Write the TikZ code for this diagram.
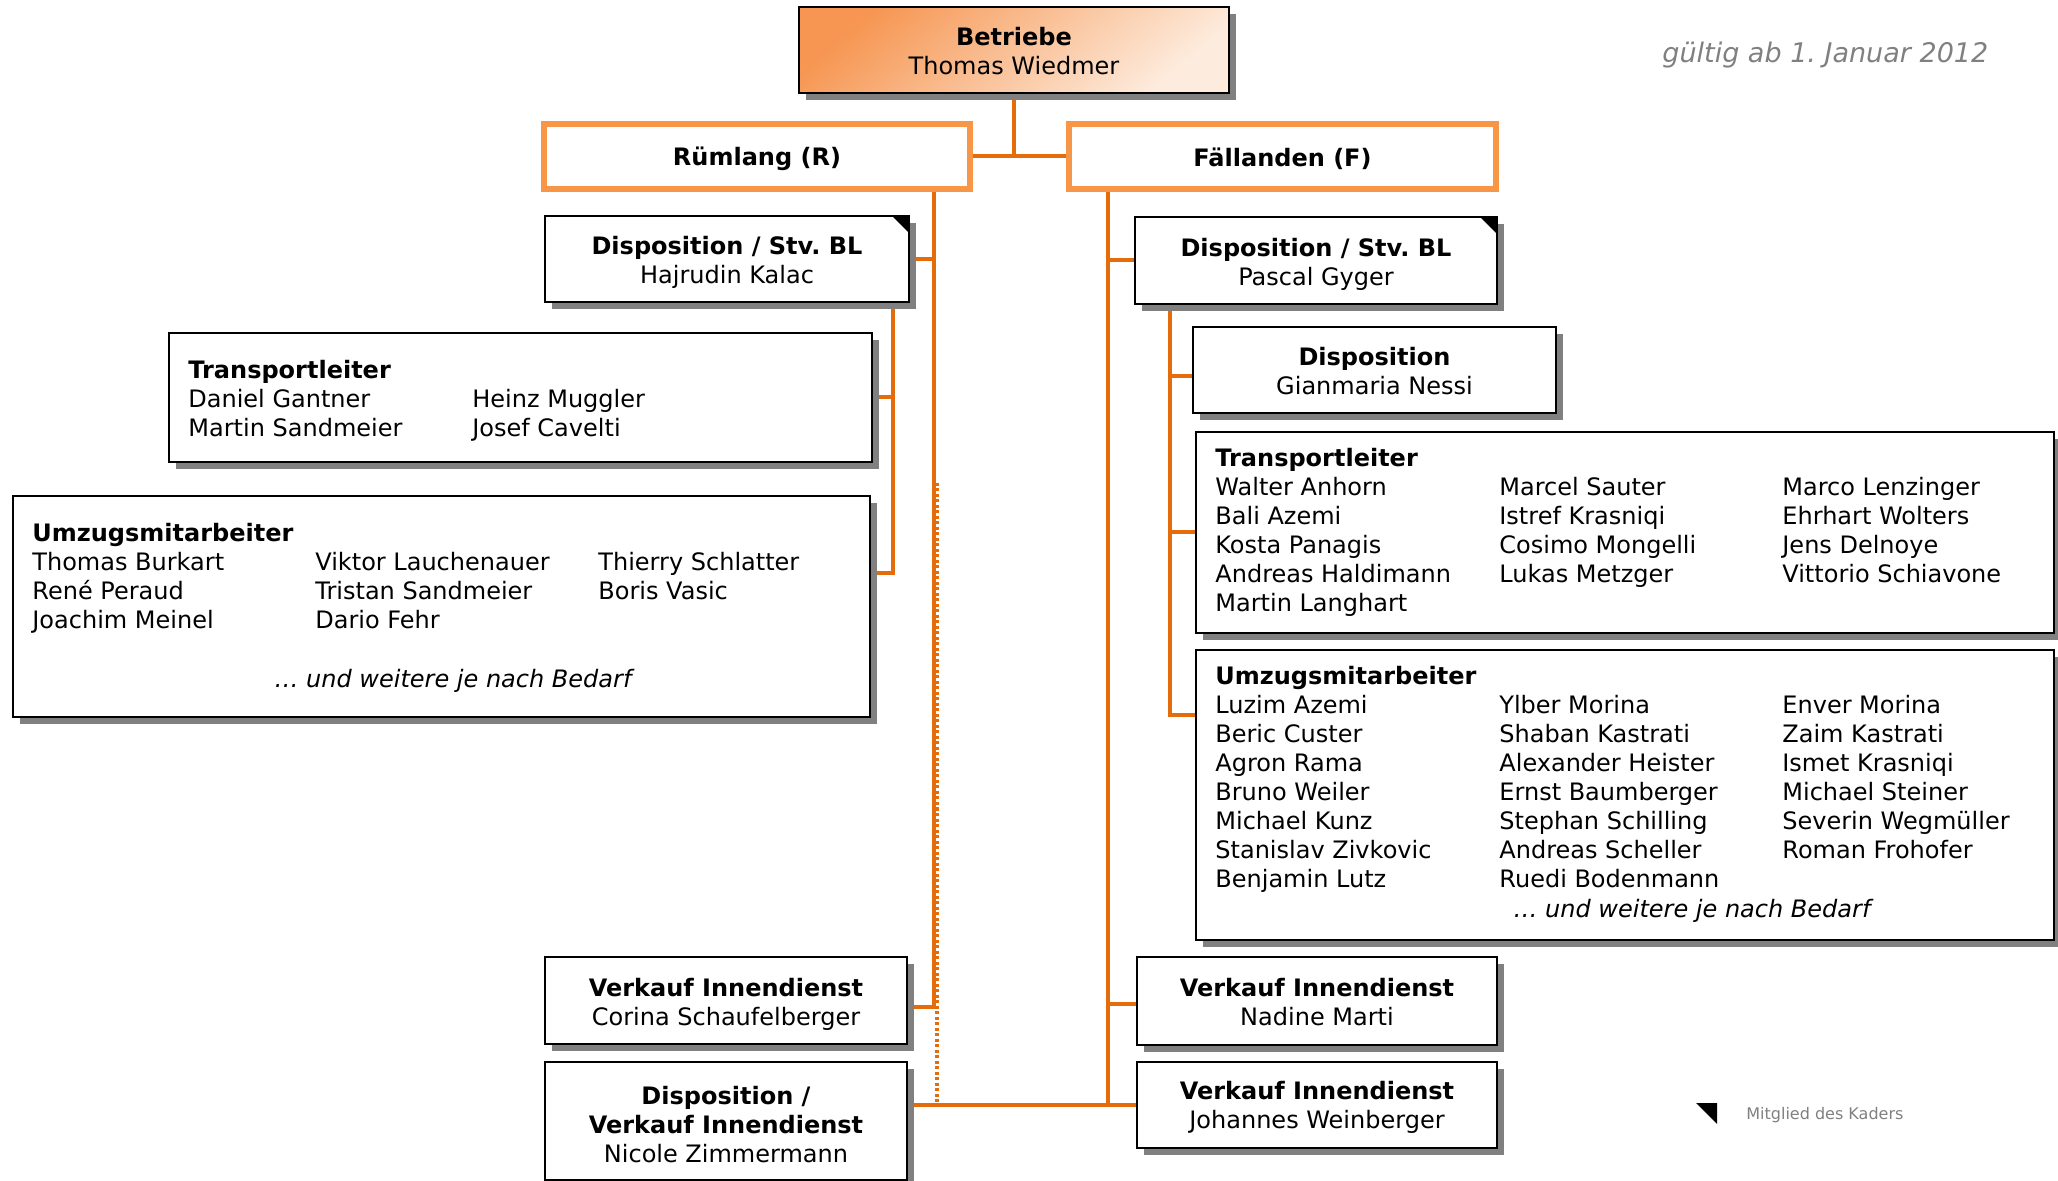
\documentclass[tikz,border=0pt]{standalone}
\usepackage{fontspec}
\setmainfont{DejaVu Sans}
\usetikzlibrary{shadows,backgrounds}
\definecolor{lineor}{RGB}{228,108,10}
\definecolor{boxor}{RGB}{247,150,70}
\definecolor{gradA}{RGB}{246,150,82}
\definecolor{gradB}{RGB}{253,236,222}
\definecolor{shad}{RGB}{128,128,128}
\definecolor{greytxt}{RGB}{128,128,128}
\newcommand\mystrut[1]{\rule{0pt}{#1}}
\frenchspacing
\begin{document}
\frenchspacing
\begin{tikzpicture}[x=0.5pt,y=-0.5pt,
  every node/.style={font=\fontsize{12}{14.5}\selectfont},
  box/.style={draw=black, line width=1.2pt, fill=white, inner sep=0pt, outer sep=0pt, align=center, anchor=north west,
    drop shadow={shadow xshift=3.5pt, shadow yshift=-3.5pt, fill=shad, opacity=1}},
  site/.style={draw=boxor, line width=3pt, fill=white, inner sep=0pt, outer sep=0pt, anchor=north west,
    execute at begin node={\rule{0pt}{12pt}},
    font=\fontsize{12}{14.5}\selectfont\bfseries},
  conn/.style={draw=lineor, line width=2pt},
  dotconn/.style={draw=lineor, line width=1.75pt, dash pattern=on 1.5pt off 1.25pt},
  txt/.style={anchor=base west, inner sep=0pt},
  more/.style={anchor=base, inner sep=0pt, font=\fontsize{12}{14.5}\selectfont\itshape},
  kader/.style={fill=black},
  ]
\clip (0,0) rectangle (2058,1181);

% top
\node[box, minimum width=215pt, minimum height=43pt, top color=gradA, bottom color=gradB, shading angle=40] (bet) at (799,7)
  {\mystrut{10.5pt}\textbf{Betriebe}\\Thomas Wiedmer};
\node[site, minimum width=213pt, minimum height=32.5pt] (rum) at (544,124) {Rümlang (R)};
\node[site, minimum width=213.5pt, minimum height=32.5pt] (fal) at (1069,124) {Fällanden (F)};

% left side
\node[box, minimum width=182pt, minimum height=43pt] (dR) at (545,216) {\mystrut{13pt}\textbf{Disposition / Stv. BL}\\Hajrudin Kalac};
\node[box, minimum width=351.5pt, minimum height=64.5pt] (tR) at (169,333) {};
\node[box, minimum width=428.5pt, minimum height=110.5pt] (uR) at (13,496) {};
\node[box, minimum width=181pt, minimum height=43.5pt] (vR) at (545,957) {\mystrut{12.5pt}\textbf{Verkauf Innendienst}\\Corina Schaufelberger};
\node[box, minimum width=181pt, minimum height=59pt] (dvR) at (545,1062) {\mystrut{12.5pt}\textbf{Disposition /}\\\textbf{Verkauf Innendienst}\\Nicole Zimmermann};

% right side
\node[box, minimum width=181pt, minimum height=43.5pt] (dF) at (1135,217) {\mystrut{13pt}\textbf{Disposition / Stv. BL}\\Pascal Gyger};
\node[box, minimum width=181.5pt, minimum height=43pt] (dispF) at (1193,327) {\mystrut{10.5pt}\textbf{Disposition}\\Gianmaria Nessi};
\node[box, minimum width=429pt, minimum height=100.5pt] (tF) at (1196,432) {};
\node[box, minimum width=429pt, minimum height=145pt] (uF) at (1196,650) {};
\node[box, minimum width=180pt, minimum height=44pt] (vF) at (1137,957) {\mystrut{10pt}\textbf{Verkauf Innendienst}\\Nadine Marti};
\node[box, minimum width=180pt, minimum height=43pt] (vF2) at (1137,1062) {\mystrut{11.5pt}\textbf{Verkauf Innendienst}\\Johannes Weinberger};

% Kader markers
\fill[kader] ([xshift=-8.5pt]dR.north east) -- (dR.north east) -- ([yshift=-8.5pt]dR.north east) -- cycle;
\fill[kader] ([xshift=-8.5pt]dF.north east) -- (dF.north east) -- ([yshift=-8.5pt]dF.north east) -- cycle;

% Transportleiter R
\node[txt] (tRh) at (188,379) {\textbf{Transportleiter}};
\foreach \t [count=\i from 0] in {Daniel Gantner, Martin Sandmeier} \node[txt] (tRa\i) at (188,408+29*\i) {\t};
\foreach \t [count=\i from 0] in {Heinz Muggler, Josef Cavelti} \node[txt] (tRb\i) at (472,408+29*\i) {\t};

% Umzugsmitarbeiter R
\node[txt] (uRh) at (32,542) {\textbf{Umzugsmitarbeiter}};
\foreach \t [count=\i from 0] in {Thomas Burkart, René Peraud, Joachim Meinel} \node[txt] (uRa\i) at (32,571+29*\i) {\t};
\foreach \t [count=\i from 0] in {Viktor Lauchenauer, Tristan Sandmeier, Dario Fehr} \node[txt] (uRb\i) at (315,571+29*\i) {\t};
\foreach \t [count=\i from 0] in {Thierry Schlatter, Boris Vasic} \node[txt] (uRc\i) at (598,571+29*\i) {\t};
\node[more] (uRm) at (453,688) {… und weitere je nach Bedarf};

% Transportleiter F
\node[txt] (tFh) at (1215,467) {\textbf{Transportleiter}};
\foreach \t [count=\i from 0] in {Walter Anhorn, Bali Azemi, Kosta Panagis, Andreas Haldimann, Martin Langhart} \node[txt] (tFa\i) at (1215,496+29*\i) {\t};
\foreach \t [count=\i from 0] in {Marcel Sauter, Istref Krasniqi, Cosimo Mongelli, Lukas Metzger} \node[txt] (tFb\i) at (1499,496+29*\i) {\t};
\foreach \t [count=\i from 0] in {Marco Lenzinger, Ehrhart Wolters, Jens Delnoye, Vittorio Schiavone} \node[txt] (tFc\i) at (1782,496+29*\i) {\t};

% Umzugsmitarbeiter F
\node[txt] (uFh) at (1215,685) {\textbf{Umzugsmitarbeiter}};
\foreach \t [count=\i from 0] in {Luzim Azemi, Beric Custer, Agron Rama, Bruno Weiler, Michael Kunz, Stanislav Zivkovic, Benjamin Lutz} \node[txt] (uFa\i) at (1215,714+29*\i) {\t};
\foreach \t [count=\i from 0] in {Ylber Morina, Shaban Kastrati, Alexander Heister, Ernst Baumberger, Stephan Schilling, Andreas Scheller, Ruedi Bodenmann} \node[txt] (uFb\i) at (1499,714+29*\i) {\t};
\foreach \t [count=\i from 0] in {Enver Morina, Zaim Kastrati, Ismet Krasniqi, Michael Steiner, Severin Wegmüller, Roman Frohofer} \node[txt] (uFc\i) at (1782,714+29*\i) {\t};
\node[more] (uFm) at (1692,917) {… und weitere je nach Bedarf};

% date and legend
\node[anchor=base west, inner sep=0pt, font=\fontsize{13.5}{16}\selectfont\itshape, text=greytxt] (date) at (1662,63) {gültig ab 1. Januar 2012};
\coordinate (legtri) at (1717,1103);
\fill[kader] ([xshift=-10.5pt]legtri) -- (legtri) -- ([yshift=-10.5pt]legtri) -- cycle;
\node[anchor=base west, inner sep=0pt, font=\fontsize{8}{10}\selectfont, text=greytxt] (leg) at (1746,1119) {Mitglied des Kaders};

% connectors
\coordinate (tkL) at (934,0);
\coordinate (skL) at (893,0);
\coordinate (tkR) at (1108,0);
\coordinate (skR) at (1170,0);
\coordinate (dotTop) at (937,483);
\begin{scope}[on background layer]
  \draw[conn] (bet.south) -- (bet.south |- rum.east);
  \draw[conn] (rum.east) -- (fal.west);
  \draw[conn] (rum.south -| tkL) |- ([yshift=-3pt]vR.east);
  \draw[conn] (dR.east) -- (dR.east -| tkL);
  \draw[conn] (dR.south -| skL) |- ([yshift=16.75pt]uR.east);
  \draw[conn] (tR.east) -- (tR.east -| skL);
  \draw[dotconn] (dotTop) -- (dotTop |- vF2.west);
  \draw[conn] (dvR.east |- vF2.west) -- (vF2.west);
  \draw[conn] (fal.south -| tkR) -- (tkR |- vF2.west);
  \draw[conn] (dF.west) -- (dF.west -| tkR);
  \draw[conn] ([yshift=-1.5pt]vF.west) -- ([yshift=-1.5pt]vF.west -| tkR);
  \draw[conn] (dF.south -| skR) |- ([yshift=40pt]uF.west);
  \draw[conn] ([yshift=-3pt]dispF.west) -- ([yshift=-3pt]dispF.west -| skR);
  \draw[conn] (tF.west) -- (tF.west -| skR);
\end{scope}
\end{tikzpicture}
\end{document}
